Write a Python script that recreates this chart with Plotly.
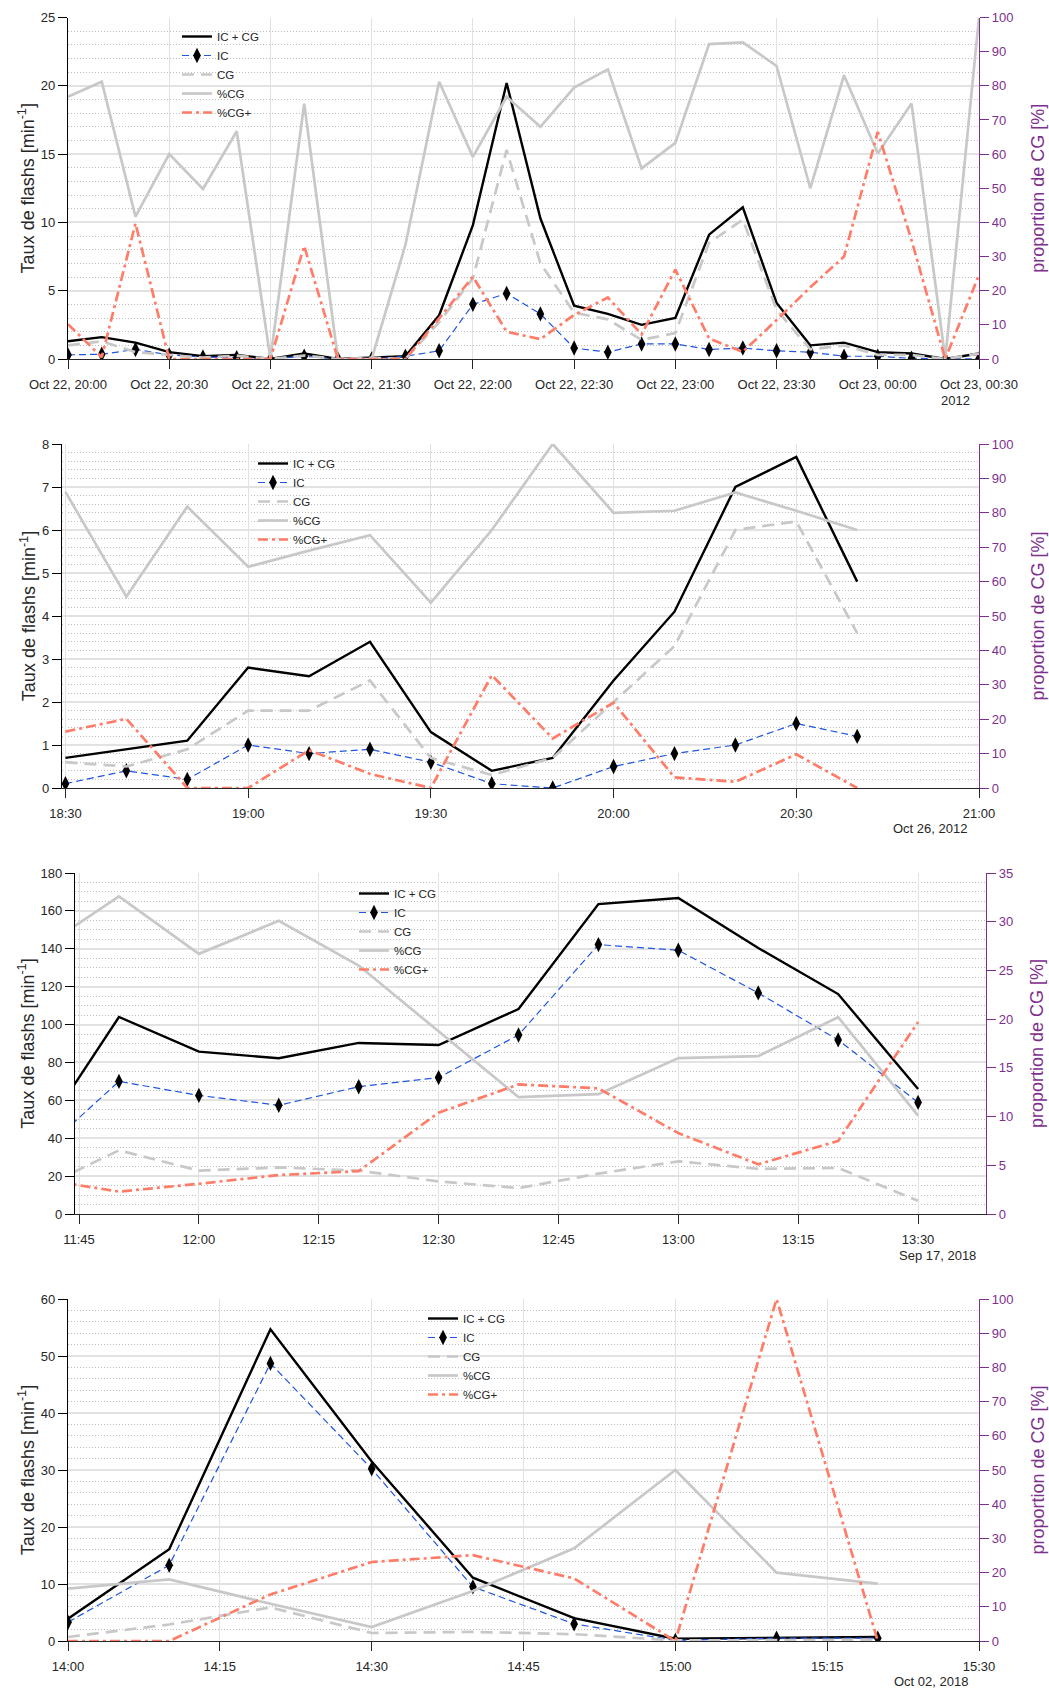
import pandas as pd
import plotly.graph_objects as go

# ---------------- data ----------------
# Panel 1 : 22-23 Oct 2012
t1 = pd.date_range("2012-10-22 20:00", "2012-10-23 00:30", freq="10min")
tot1 = [1.3, 1.6, 1.2, 0.5, 0.2, 0.3, 0.0, 0.4, 0.0, 0.1, 0.2, 3.2, 9.8, 20.2, 10.3,
        3.9, 3.3, 2.5, 3.0, 9.1, 11.1, 4.1, 1.0, 1.2, 0.5, 0.4, 0.0, 0.4]
ic1 = [0.3, 0.35, 0.7, 0.3, 0.15, 0.1, 0.0, 0.2, 0.0, 0.0, 0.2, 0.6, 4.0, 4.8, 3.3,
       0.8, 0.5, 1.1, 1.1, 0.7, 0.8, 0.6, 0.5, 0.2, 0.2, 0.05, 0.0, 0.0]
cg1 = [1.0, 1.3, 0.5, 0.3, 0.1, 0.25, 0.0, 0.25, 0.0, 0.1, 0.0, 2.7, 5.9, 15.3, 7.0,
       3.4, 2.9, 1.4, 1.9, 8.5, 10.2, 3.6, 0.7, 1.0, 0.3, 0.3, 0.0, 0.4]
pcg1 = [76.8, 81.2, 41.7, 60.0, 49.8, 66.7, 0.0, 74.8, 0.0, 0.0, 33.4, 81.2, 59.2, 76.8,
        68.0, 79.5, 84.8, 55.8, 63.3, 92.2, 92.7, 85.8, 50.0, 83.1, 60.2, 74.8, 0.0, 100.0]
pcgp1 = [10.2, 0.5, 39.7, 0.0, 0.0, 0.0, 0.0, 33.1, 0.0, 0.0, 0.0, 11.9, 24.1, 8.0,
         5.8, 12.9, 18.0, 7.2, 26.2, 6.0, 2.1, 11.4, 21.0, 30.0, 66.5, 34.8, 0.0, 24.6]

# Panel 2 : 26 Oct 2012
t2 = pd.date_range("2012-10-26 18:30", "2012-10-26 20:40", freq="10min")
tot2 = [0.7, 0.9, 1.1, 2.8, 2.6, 3.4, 1.3, 0.4, 0.7, 2.5, 4.1, 7.0, 7.7, 4.8]
ic2 = [0.1, 0.4, 0.2, 1.0, 0.8, 0.9, 0.6, 0.1, 0.0, 0.5, 0.8, 1.0, 1.5, 1.2]
cg2 = [0.6, 0.5, 0.9, 1.8, 1.8, 2.5, 0.7, 0.3, 0.7, 2.0, 3.3, 6.0, 6.2, 3.6]
pcg2 = [86.1, 55.6, 81.8, 64.3, 69.0, 73.5, 53.9, 75.0, 100.0, 80.0, 80.6, 85.9, 80.6, 75.0]
pcgp2 = [16.4, 20.1, 0.0, 0.0, 11.0, 4.1, 0.0, 32.8, 14.4, 24.8, 3.1, 1.8, 9.8, 0.0]

# Panel 3 : 17 Sep 2018
t3 = pd.date_range("2018-09-17 11:40", "2018-09-17 13:30", freq="10min")
tot3 = [40.1, 104.0, 85.7, 82.2, 90.3, 89.2, 108.2, 163.6, 166.8, 140.4, 116.1, 66.0]
ic3 = [31.6, 70.0, 62.6, 57.4, 67.2, 72.0, 94.5, 142.2, 139.2, 116.7, 91.9, 58.9]
cg3 = [13.3, 33.6, 22.9, 24.6, 22.9, 17.2, 13.7, 21.3, 27.8, 23.8, 24.3, 7.0]
pcg3 = [27.1, 32.6, 26.7, 30.1, 25.5, 18.7, 12.0, 12.3, 16.0, 16.2, 20.2, 10.1]
pcgp3 = [3.6, 2.3, 3.1, 4.0, 4.4, 10.4, 13.3, 12.9, 8.3, 5.1, 7.5, 19.7]

# Panel 4 : 02 Oct 2018
t4 = pd.date_range("2018-10-02 14:00", "2018-10-02 15:20", freq="10min")
tot4 = [3.9, 16.1, 54.7, 31.5, 11.1, 4.0, 0.4, 0.5, 0.7]
ic4 = [3.3, 13.3, 48.7, 30.2, 9.5, 3.0, 0.1, 0.5, 0.5]
cg4 = [0.7, 2.9, 5.9, 1.4, 1.6, 1.2, 0.1, 0.1, 0.2]
pcg4 = [15.3, 18.0, 10.9, 4.1, 14.6, 27.1, 50.0, 20.0, 16.8]
pcgp4 = [0.0, 0.0, 13.6, 23.1, 25.1, 18.3, 0.0, 100.0, 0.0]

series_names = ["IC + CG", "IC", "CG", "%CG", "%CG+"]

panels = [
    dict(t=t1, tot=tot1, ic=ic1, cg=cg1, pcg=pcg1, pcgp=pcgp1,
         xr=["2012-10-22 20:00", "2012-10-23 00:30"], x0="2012-10-22 00:00", xdt=30,
         xfmt="%b %d, %H:%M",
         yl=[0, 25], ydt=5, yminor=1, yr=[0, 100], yrdt=10,
         box=(68, 979, 17.5, 359), leg=(177, 22), date="2012", datepos=(955, 400)),
    dict(t=t2, tot=tot2, ic=ic2, cg=cg2, pcg=pcg2, pcgp=pcgp2,
         xr=["2012-10-26 18:29:26", "2012-10-26 21:00"], x0="2012-10-26 00:00", xdt=30,
         xfmt="%H:%M",
         yl=[0, 8], ydt=1, yminor=0.2, yr=[0, 100], yrdt=10,
         box=(62, 979, 444, 788), leg=(253, 449), date="Oct 26, 2012", datepos=(930, 828)),
    dict(t=t3, tot=tot3, ic=ic3, cg=cg3, pcg=pcg3, pcgp=pcgp3,
         xr=["2018-09-17 11:44:30", "2018-09-17 13:38:30"], x0="2018-09-17 00:00", xdt=15,
         xfmt="%H:%M",
         yl=[0, 180], ydt=20, yminor=5, yr=[0, 35], yrdt=5,
         box=(75, 986, 873, 1214), leg=(354, 879), date="Sep 17, 2018", datepos=(937, 1255)),
    dict(t=t4, tot=tot4, ic=ic4, cg=cg4, pcg=pcg4, pcgp=pcgp4,
         xr=["2018-10-02 14:00", "2018-10-02 15:30"], x0="2018-10-02 00:00", xdt=15,
         xfmt="%H:%M",
         yl=[0, 60], ydt=10, yminor=2, yr=[0, 100], yrdt=10,
         box=(68, 979, 1299, 1641), leg=(423, 1304), date="Oct 02, 2018", datepos=(931, 1681)),
]

# ---------------- style ----------------
W, H = 1049, 1689
FONT = "Arial, Liberation Sans, Helvetica, sans-serif"
TXT = "#262626"
PURPLE = "#7E2F8E"
BLUE = "#1f55e0"
LGRAY = "#c8c8c8"
SALMON = "#ff7d68"
GRID = "#e2e2e2"
MINOR = "#bdbdbd"


def sfx(n):
    return "" if n == 1 else str(n)


fig = go.Figure()
layout = dict(
    width=W, height=H, margin=dict(l=0, r=0, t=0, b=0, autoexpand=False),
    paper_bgcolor="white", plot_bgcolor="white",
    font=dict(family=FONT, size=13, color=TXT),
    annotations=[],
)

for i, p in enumerate(panels):
    xm, xg = 2 * i + 1, 2 * i + 2
    yl, yr, ygl, ygr = 4 * i + 1, 4 * i + 2, 4 * i + 3, 4 * i + 4
    legname = "legend" + sfx(i + 1)
    x0, x1, y0, y1 = p["box"]
    xdom = [x0 / W, x1 / W]
    ydom = [1 - y1 / H, 1 - y0 / H]
    dtick_ms = p["xdt"] * 60 * 1000

    common = dict(xaxis="x" + sfx(xm), legend=legname)
    fig.add_trace(go.Scatter(x=p["t"], y=p["tot"], name=series_names[0], mode="lines",
                             line=dict(color="black", width=2.4), yaxis="y" + sfx(yl), **common))
    fig.add_trace(go.Scatter(x=p["t"], y=p["ic"], name=series_names[1], mode="lines+markers",
                             line=dict(color=BLUE, width=1.2, dash="7px,4px"),
                             marker=dict(symbol="diamond-tall", size=11, color="black"),
                             yaxis="y" + sfx(yl), **common))
    fig.add_trace(go.Scatter(x=p["t"], y=p["cg"], name=series_names[2], mode="lines",
                             line=dict(color=LGRAY, width=2.7, dash="12px,7px"),
                             yaxis="y" + sfx(yl), **common))
    fig.add_trace(go.Scatter(x=p["t"], y=p["pcg"], name=series_names[3], mode="lines",
                             line=dict(color=LGRAY, width=2.7),
                             yaxis="y" + sfx(yr), **common))
    fig.add_trace(go.Scatter(x=p["t"], y=p["pcgp"], name=series_names[4], mode="lines",
                             line=dict(color=SALMON, width=2.7, dash="10px,4px,3px,4px"),
                             yaxis="y" + sfx(yr), **common))

    # main x axis
    layout["xaxis" + sfx(xm)] = dict(
        domain=xdom, anchor="y" + sfx(yl), type="date", range=p["xr"],
        tick0=p["x0"], dtick=dtick_ms, tickformat=p["xfmt"],
        ticks="outside", ticklen=9, tickcolor=TXT, tickwidth=1,
        showline=True, linecolor=TXT, linewidth=1,
        showgrid=True, gridcolor=GRID, gridwidth=1, zeroline=False, automargin=False,
        tickfont=dict(size=13, color=TXT), ticklabelstandoff=4,
    )
    # ghost x axis (inner ticks)
    layout["xaxis" + sfx(xg)] = dict(
        overlaying="x" + sfx(xm), anchor="y" + sfx(yl), type="date", range=p["xr"],
        tick0=p["x0"], dtick=dtick_ms, ticks="inside", ticklen=8, tickcolor=TXT,
        showticklabels=False, showgrid=False, showline=False, zeroline=False,
        automargin=False,
    )
    # left y axis
    layout["yaxis" + sfx(yl)] = dict(
        domain=ydom, anchor="x" + sfx(xm), range=p["yl"], dtick=p["ydt"], tick0=0,
        ticks="outside", ticklen=9, tickcolor="black", showline=True, linecolor="black",
        linewidth=1.2, showgrid=True, gridcolor=GRID, gridwidth=1.5, zeroline=False,
        automargin=False,
        minor=dict(dtick=p["yminor"], showgrid=True, gridcolor=MINOR, griddash="1px,2px",
                   gridwidth=1, ticks=""),
        tickfont=dict(size=13, color=TXT),
        title=dict(text="Taux de flashs [min<sup>-1</sup>]", font=dict(size=18, color=TXT),
                   standoff=1),
    )
    # right y axis
    layout["yaxis" + sfx(yr)] = dict(
        overlaying="y" + sfx(yl), side="right", anchor="x" + sfx(xm), range=p["yr"],
        dtick=p["yrdt"], tick0=0, ticks="outside", ticklen=9, tickcolor=PURPLE,
        showline=True, linecolor=PURPLE, linewidth=1.2, showgrid=False, zeroline=False,
        automargin=False,
        tickfont=dict(size=13, color=PURPLE),
        title=dict(text="proportion de CG [%]", font=dict(size=18, color=PURPLE), standoff=18),
    )
    # ghost left y (inner ticks)
    layout["yaxis" + sfx(ygl)] = dict(
        overlaying="y" + sfx(yl), side="left", anchor="x" + sfx(xm), range=p["yl"],
        dtick=p["ydt"], tick0=0, ticks="inside", ticklen=9, tickcolor="black",
        showticklabels=False, showgrid=False, showline=False, zeroline=False,
        automargin=False,
    )
    # ghost right y (inner ticks)
    layout["yaxis" + sfx(ygr)] = dict(
        overlaying="y" + sfx(yl), side="right", anchor="x" + sfx(xm), range=p["yr"],
        dtick=p["yrdt"], tick0=0, ticks="inside", ticklen=9, tickcolor=PURPLE,
        showticklabels=False, showgrid=False, showline=False, zeroline=False,
        automargin=False,
    )
    # legend
    lx, ly = p["leg"]
    layout[legname] = dict(
        x=lx / W, y=1 - ly / H, xanchor="left", yanchor="top",
        bgcolor="rgba(255,255,255,0)", borderwidth=0,
        font=dict(size=11.5, color=TXT), tracegroupgap=0,
    )
    # date annotation
    dx, dy = p["datepos"]
    layout["annotations"].append(dict(
        text=p["date"], x=dx / W, y=1 - dy / H, xref="paper", yref="paper",
        xanchor="center", yanchor="middle", showarrow=False,
        font=dict(size=13, color=TXT)))

fig.update_layout(**layout)
fig.write_html("out.html", config={"displayModeBar": False},
               post_script="document.body.style.margin='0';")
